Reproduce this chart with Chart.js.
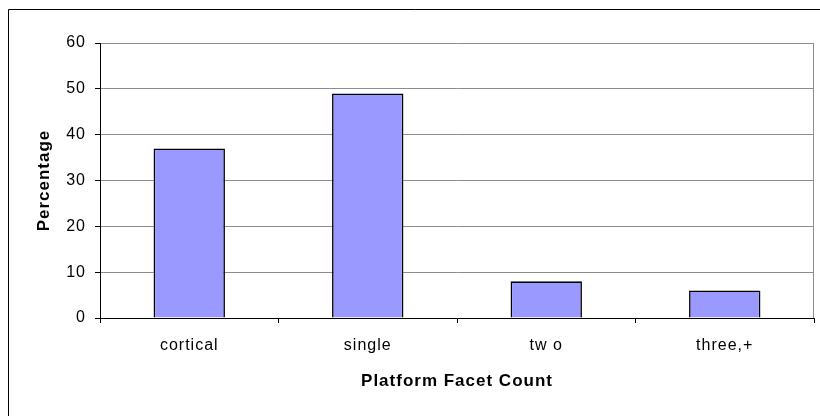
<!DOCTYPE html>
<html>
<head>
<meta charset="utf-8">
<script src="https://cdn.jsdelivr.net/npm/chart.js@4/dist/chart.umd.min.js"></script>
<style>
  html, body { margin: 0; padding: 0; background: #ffffff; }
  #wrap { width: 820px; height: 416px; position: relative; }
  canvas { display: block; }
</style>
</head>
<body>
<div id="wrap"><canvas id="c" width="820" height="416"></canvas></div>
<script>
const categories = ["cortical", "single", "tw o", "three,+"];
const percentages = [37, 49, 8, 6];
const yTicks = [0, 10, 20, 30, 40, 50, 60];
const xTitle = "Platform Facet Count";
const yTitle = "Percentage";

const FONT = "'Liberation Sans', Arial, sans-serif";

const framePlugin = {
  id: 'frame',
  beforeUpdate(chart) { chart.ctx.letterSpacing = '1px'; },
  beforeDraw(chart) {
    const ctx = chart.ctx;
    ctx.letterSpacing = '1px';
    ctx.save();
    ctx.fillStyle = '#ffffff';
    ctx.fillRect(0, 0, chart.width, chart.height);
    ctx.strokeStyle = '#000000';
    ctx.lineWidth = 1;
    ctx.beginPath();
    ctx.moveTo(8.5, chart.height + 5);
    ctx.lineTo(8.5, 9.5);
    ctx.lineTo(chart.width + 5, 9.5);
    ctx.stroke();
    ctx.restore();
  },
  beforeDatasetsDraw(chart) {
    const ctx = chart.ctx;
    const a = chart.chartArea;
    ctx.save();
    ctx.strokeStyle = '#8c8c8c';
    ctx.lineWidth = 1;
    ctx.beginPath();
    ctx.moveTo(Math.round(a.right) - 0.5, a.top);
    ctx.lineTo(Math.round(a.right) - 0.5, a.bottom);
    ctx.stroke();
    ctx.restore();
  }
};

new Chart(document.getElementById('c'), {
  type: 'bar',
  data: {
    labels: categories,
    datasets: [{
      data: percentages,
      backgroundColor: '#9999ff',
      borderColor: '#000000',
      borderWidth: 1.6,
      categoryPercentage: 1.0,
      barPercentage: 0.4
    }]
  },
  options: {
    responsive: false,
    animation: false,
    devicePixelRatio: 1,
    layout: { padding: { top: 43, right: 6, left: 0, bottom: 0 } },
    plugins: { legend: { display: false }, tooltip: { enabled: false } },
    scales: {
      x: {
        offset: true,
        afterFit(s) { s.height = 98; },
        grid: { offset: true, drawOnChartArea: false, drawTicks: true, tickLength: 5, tickColor: '#000000' },
        border: { display: true, color: '#000000', width: 1 },
        ticks: { color: '#000000', font: { family: FONT, size: 16 }, padding: 13, maxRotation: 0, autoSkip: false },
        title: { display: true, text: xTitle, color: '#000000', font: { family: FONT, size: 17, weight: 'bold' }, padding: { top: 0, bottom: 24 } }
      },
      y: {
        min: 0, max: 60,
        afterFit(s) { s.width = 100; },
        afterBuildTicks(s) { s.ticks = yTicks.map(v => ({ value: v })); },
        grid: { color: '#8c8c8c', lineWidth: 1, drawTicks: true, tickLength: 5, tickColor: '#000000' },
        border: { display: true, color: '#000000', width: 1 },
        ticks: { color: '#000000', font: { family: FONT, size: 16 }, padding: 9, stepSize: 10 },
        title: { display: true, text: yTitle, color: '#000000', font: { family: FONT, size: 17, weight: 'bold' }, padding: { top: 34, bottom: 0 } }
      }
    }
  },
  plugins: [framePlugin]
});
</script>
</body>
</html>
